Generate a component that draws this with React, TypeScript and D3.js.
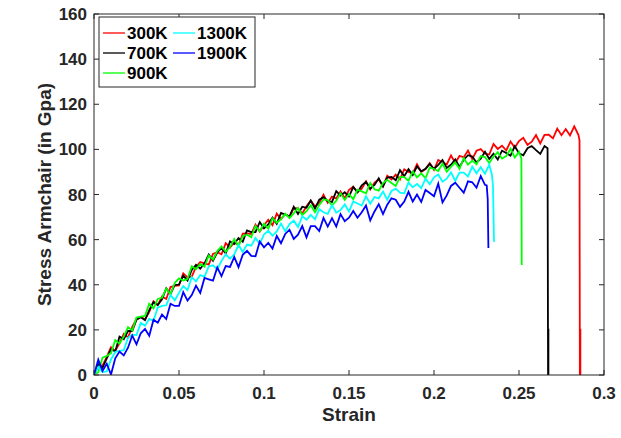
import React from "react";
import * as d3 from "d3";

// Sampling step of the recorded strain values
const strainStep = 0.0025;

// Stress (GPa), one value per strain step, starting at strain 0
const stress300K = [0, 4.3, 4.1, 8.0, 12.3, 10.7, 14.0, 18.2, 16.6, 21.3, 24.8, 25.8, 24.7, 28.0, 32.7, 31.0, 34.8, 33.7, 39.0, 39.5, 39.7, 45.1, 43.3, 43.6, 47.9, 50.1, 49.5, 48.9, 53.7, 54.4, 53.5, 58.4, 56.5, 58.9, 57.4, 62.7, 62.8, 62.5, 66.6, 63.6, 66.4, 68.8, 66.4, 71.5, 69.1, 71.3, 70.0, 74.0, 73.9, 71.6, 74.8, 77.3, 74.8, 76.2, 79.9, 76.3, 79.1, 78.2, 81.3, 78.3, 82.1, 83.4, 81.0, 82.6, 85.8, 82.2, 85.3, 86.6, 83.6, 88.3, 86.7, 88.8, 86.7, 91.2, 90.0, 89.4, 93.4, 90.0, 91.3, 93.9, 90.9, 95.3, 94.3, 93.3, 97.3, 94.0, 97.1, 96.5, 99.5, 95.7, 99.4, 100.1, 98.1, 97.7, 102.4, 100.2, 101.6, 99.5, 103.5, 100.8, 103.7, 105.1, 102.0, 103.4, 106.3, 102.6, 106.4, 106.5, 104.9, 109.2, 106.3, 109.0, 106.2, 110.2, 106.3];
const stress700K = [0, 4.8, 3.2, 7.4, 11.4, 10.4, 17.0, 15.9, 19.5, 19.5, 24.5, 25.6, 24.3, 28.7, 32.3, 31.0, 33.6, 38.4, 35.9, 39.9, 40.1, 44.0, 41.9, 46.6, 48.8, 47.1, 49.5, 53.4, 50.6, 54.3, 56.2, 53.9, 59.2, 58.0, 60.7, 59.1, 64.1, 63.3, 63.3, 67.8, 65.0, 66.7, 69.7, 67.0, 71.8, 71.1, 70.3, 74.6, 71.4, 74.6, 74.1, 77.3, 73.8, 77.7, 78.8, 77.0, 76.7, 81.5, 79.5, 81.0, 79.1, 83.3, 81.0, 84.1, 85.6, 82.6, 84.2, 87.2, 83.6, 87.5, 87.8, 86.3, 90.8, 88.1, 91.2, 88.6, 92.5, 90.3, 91.4, 93.6, 91.3, 93.1, 95.3, 91.8, 93.2, 95.6, 92.2, 95.4, 97.4, 96.8, 94.2, 95.9, 99.0, 95.8, 98.1, 95.5, 99.4, 98.4, 97.2, 101.4, 98.3, 97.4, 100.5, 101.5, 99.7, 98.0, 101.5];
const stress900K = [0, 1.2, 7.7, 8.4, 9.7, 15.5, 13.9, 17.0, 21.2, 19.7, 25.5, 25.9, 26.2, 31.6, 29.5, 33.7, 34.2, 38.3, 35.8, 40.8, 42.8, 41.9, 42.5, 48.2, 46.9, 49.2, 48.0, 52.9, 51.2, 54.9, 57.0, 54.6, 56.7, 60.2, 57.1, 61.5, 62.2, 61.1, 66.0, 63.7, 67.1, 64.8, 69.4, 67.5, 69.0, 71.5, 69.5, 71.6, 74.1, 70.9, 72.6, 75.2, 72.1, 75.4, 77.8, 77.5, 75.2, 77.2, 80.6, 77.6, 80.2, 77.9, 82.1, 81.4, 80.5, 85.0, 82.3, 81.7, 85.1, 86.5, 85.1, 83.8, 87.8, 87.7, 86.1, 90.2, 87.6, 89.4, 87.2, 91.9, 91.3, 90.4, 93.7, 90.1, 92.2, 94.2, 91.4, 96.1, 93.2, 95.0, 93.4, 97.0, 96.6, 93.9, 96.8, 98.8, 95.9, 97.0, 100.3, 96.4, 98.9];
const stress1300K = [0, 3.6, 1.3, 1.6, 6.9, 10.2, 10.7, 11.0, 16.5, 17.9, 17.7, 23.1, 21.8, 24.9, 24.0, 29.9, 30.6, 30.9, 35.5, 33.1, 36.4, 39.4, 37.6, 43.4, 41.5, 44.3, 43.6, 48.1, 48.6, 46.8, 50.6, 53.5, 51.5, 53.5, 57.6, 54.5, 57.8, 57.3, 60.7, 58.1, 62.3, 63.9, 61.7, 63.6, 67.1, 63.7, 66.9, 68.4, 65.6, 70.4, 68.8, 71.0, 69.0, 73.5, 72.1, 71.4, 75.3, 71.9, 73.1, 75.6, 72.5, 76.9, 76.0, 75.1, 79.2, 75.9, 78.9, 78.3, 81.3, 77.7, 81.6, 82.6, 80.8, 80.5, 85.3, 83.2, 84.7, 82.8, 87.0, 84.6, 87.6, 88.9, 85.7, 87.0, 89.8, 86.0, 89.7, 89.7, 88.0, 92.3, 89.4, 92.1, 89.2, 93.2];
const stress1900K = [0, 6.8, 1.8, 5.0, 0.2, 7.4, 10.4, 8.7, 12.1, 17.5, 13.6, 18.5, 20.4, 17.4, 24.5, 23.2, 26.8, 24.8, 31.6, 30.6, 30.6, 36.7, 33.0, 35.4, 39.6, 36.4, 43.0, 42.4, 41.8, 47.7, 43.8, 48.3, 47.9, 52.3, 47.8, 53.3, 55.0, 52.8, 52.6, 59.2, 56.6, 58.6, 56.0, 61.6, 58.4, 62.5, 64.4, 60.3, 62.2, 66.0, 61.0, 66.0, 66.0, 63.8, 69.6, 65.8, 69.5, 65.8, 71.3, 68.2, 69.7, 72.7, 69.7, 72.1, 75.1, 68.5, 72.5, 75.7, 71.3, 75.5, 78.3, 77.7, 74.5, 76.9, 81.2, 76.9, 80.0, 76.7, 82.0, 80.7, 79.2, 84.8, 76.5, 79.6, 83.8, 85.2, 83.0, 80.8, 85.8, 85.4, 83.0, 88.2, 84.3];

// Fracture tails: [strain, stress]
const tail300K: [number, number][] = [[0.2856, 104], [0.2858, 0], [0.2861, 20.5], [0.2861, 0]];
const tail700K: [number, number][] = [[0.2668, 100.5], [0.2671, 0], [0.2673, 20.5], [0.2673, 0]];
const tail900K: [number, number][] = [[0.2514, 96], [0.2516, 48.8]];
const tail1300K: [number, number][] = [[0.234, 89], [0.2347, 84], [0.2353, 59]];
const tail1900K: [number, number][] = [[0.231, 84], [0.2316, 78], [0.232, 56.3]];

const seriesNames = ["300K", "700K", "900K", "1300K", "1900K"];
const seriesColors = ["#ff0000", "#000000", "#00ff00", "#00ffff", "#0000ff"];
const seriesStress = [stress300K, stress700K, stress900K, stress1300K, stress1900K];
const seriesTails = [tail300K, tail700K, tail900K, tail1300K, tail1900K];

const xTicks = [0, 0.05, 0.1, 0.15, 0.2, 0.25, 0.3];
const xTickLabels = ["0", "0.05", "0.1", "0.15", "0.2", "0.25", "0.3"];
const yTicks = [0, 20, 40, 60, 80, 100, 120, 140, 160];

const W = 621;
const H = 438;
const M = { left: 94, right: 604, top: 14, bottom: 375 };
const AX = "#262626";
const FONT = "'Liberation Sans', Arial, Helvetica, sans-serif";

export default function App() {
  const x = d3.scaleLinear().domain([0, 0.3]).range([M.left, M.right]);
  const y = d3.scaleLinear().domain([0, 160]).range([M.bottom, M.top]);
  const line = d3
    .line<[number, number]>()
    .x((d) => x(d[0]))
    .y((d) => y(d[1]));

  const data = seriesStress.map((arr, k) => {
    const pts: [number, number][] = arr.map((v, i) => [i * strainStep, v]);
    return pts.concat(seriesTails[k]);
  });

  const legendItems = seriesNames.map((n, i) => ({
    name: n,
    color: seriesColors[i],
    col: Math.floor(i / 3),
    row: i % 3,
  }));

  return (
    <svg
      width={W}
      height={H}
      style={{ position: "absolute", left: 0, top: 0, background: "#fff" }}
      fontFamily={FONT}
    >
      <rect x={0} y={0} width={W} height={H} fill="#fff" />
      <defs>
        <clipPath id="plotClip">
          <rect x={M.left} y={M.top} width={M.right - M.left} height={M.bottom - M.top} />
        </clipPath>
      </defs>
      <g clipPath="url(#plotClip)">
        {data.map((pts, k) => (
          <path
            key={seriesNames[k]}
            d={line(pts) || ""}
            fill="none"
            stroke={seriesColors[k]}
            strokeWidth={1.8}
            strokeLinejoin="miter"
          />
        ))}
      </g>
      <rect
        x={M.left}
        y={M.top}
        width={M.right - M.left}
        height={M.bottom - M.top}
        fill="none"
        stroke={AX}
        strokeWidth={1}
      />
      {xTicks.map((t, i) => (
        <g key={"xt" + i}>
          <line x1={x(t)} x2={x(t)} y1={M.bottom} y2={M.bottom - 5} stroke={AX} />
          <line x1={x(t)} x2={x(t)} y1={M.top} y2={M.top + 5} stroke={AX} />
          <text
            x={x(t)}
            y={M.bottom + 24}
            textAnchor="middle"
            fontSize={17}
            fontWeight="bold"
            fill={AX}
          >
            {xTickLabels[i]}
          </text>
        </g>
      ))}
      {yTicks.map((t) => (
        <g key={"yt" + t}>
          <line x1={M.left} x2={M.left + 5} y1={y(t)} y2={y(t)} stroke={AX} />
          <line x1={M.right} x2={M.right - 5} y1={y(t)} y2={y(t)} stroke={AX} />
          <text
            x={M.left - 7}
            y={y(t) + 6}
            textAnchor="end"
            fontSize={17}
            fontWeight="bold"
            fill={AX}
          >
            {t}
          </text>
        </g>
      ))}
      <text
        x={(M.left + M.right) / 2}
        y={421}
        textAnchor="middle"
        fontSize={19}
        fontWeight="bold"
        fill={AX}
      >
        Strain
      </text>
      <text
        transform={`translate(51, ${(M.top + M.bottom) / 2}) rotate(-90)`}
        textAnchor="middle"
        fontSize={19}
        fontWeight="bold"
        fill={AX}
      >
        Stress Armchair (in Gpa)
      </text>
      <g>
        <rect x={99} y={17} width={156} height={70} fill="#fff" stroke={AX} strokeWidth={1} />
        {legendItems.map((it) => {
          const lx = 103 + it.col * 70;
          const ly = 33 + it.row * 20;
          return (
            <g key={"lg" + it.name}>
              <line x1={lx} x2={lx + 22} y1={ly} y2={ly} stroke={it.color} strokeWidth={1.3} />
              <text x={lx + 24} y={ly + 6} fontSize={17} fontWeight="bold" fill="#000">
                {it.name}
              </text>
            </g>
          );
        })}
      </g>
    </svg>
  );
}
